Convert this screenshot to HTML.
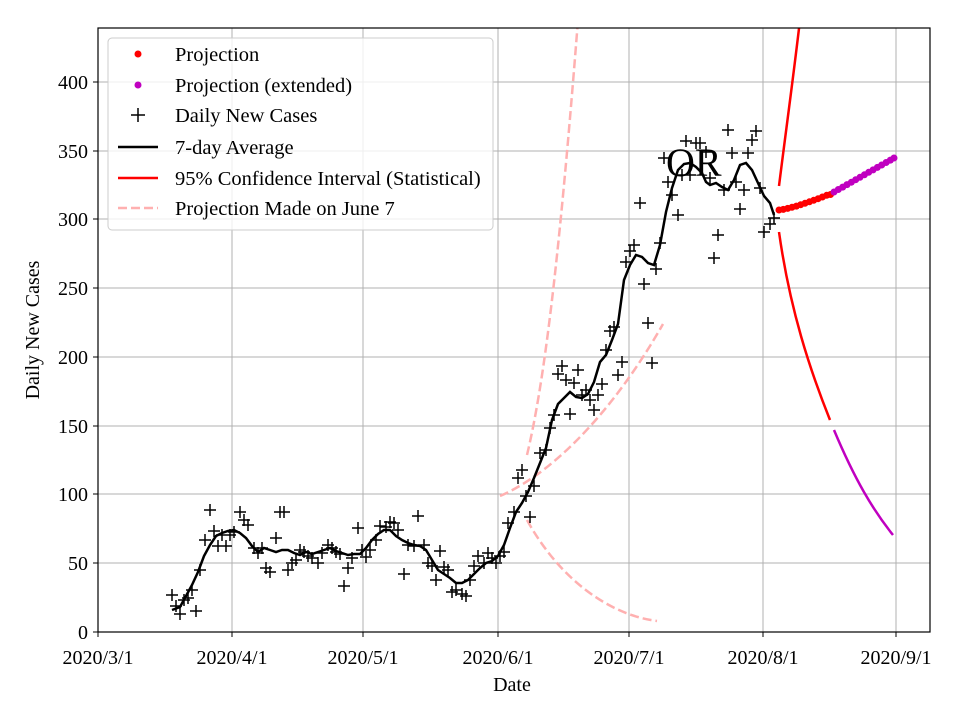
<!DOCTYPE html>
<html><head><meta charset="utf-8"><style>body{margin:0;background:#fff}svg{display:block}text{font-family:"Liberation Serif",serif;fill:#000}</style></head>
<body>
<svg width="960" height="720" viewBox="0 0 960 720" xmlns="http://www.w3.org/2000/svg">
<rect width="960" height="720" fill="#fff"/>
<g stroke="#b0b0b0" stroke-width="1">
<line x1="232" y1="28" x2="232" y2="632"/><line x1="363" y1="28" x2="363" y2="632"/><line x1="498" y1="28" x2="498" y2="632"/><line x1="629" y1="28" x2="629" y2="632"/><line x1="763" y1="28" x2="763" y2="632"/><line x1="896" y1="28" x2="896" y2="632"/>
<line x1="98" y1="563" x2="930" y2="563"/><line x1="98" y1="494" x2="930" y2="494"/><line x1="98" y1="426" x2="930" y2="426"/><line x1="98" y1="357" x2="930" y2="357"/><line x1="98" y1="288" x2="930" y2="288"/><line x1="98" y1="219" x2="930" y2="219"/><line x1="98" y1="151" x2="930" y2="151"/><line x1="98" y1="82" x2="930" y2="82"/>
</g>
<defs><clipPath id="c"><rect x="98" y="28" width="832" height="604"/></clipPath></defs>
<g clip-path="url(#c)" fill="none">
<g stroke="#ffb0b0" stroke-width="2.5" stroke-dasharray="9,4">
<path d="M527,455 C545,380 560,250 578,20"/>
<path d="M500,496 C560,470 620,400 663,324"/>
<path d="M527,520 C560,580 610,615 657,621"/>
</g>
<path d="M779,186 C786,130 793,80 800,20" stroke="#f00" stroke-width="2.5"/>
<path d="M779,232 C790,310 810,370 830,420" stroke="#f00" stroke-width="2.5"/>
<path d="M834,430 C855,480 873,510 893,535" stroke="#c000c0" stroke-width="2.5"/>
<polyline stroke="#000" stroke-width="2.5" points="172,610 180,607 186,596 192,585 198,572 204,556 210,545 216,536 222,533 228,531 234,530 240,533 246,538 252,546 258,552 264,548 270,550 276,552 282,550 288,550 294,553 300,555 306,552 312,554 318,552 324,550 330,548 336,551 342,553 348,555 354,554 360,554 366,548 372,540 378,534 384,530 390,530 396,536 402,540 408,543 414,545 420,546 426,550 432,560 438,570 444,574 450,578 456,583 462,583 468,580 474,574 480,568 486,563 492,561 498,556 504,545 510,528 516,512 522,503 528,492 534,478 540,463 546,448 552,420 558,404 564,398 570,392 576,397 582,398 588,394 594,382 600,362 606,355 612,340 618,324 624,280 630,265 636,255 642,257 648,263 654,265 660,245 666,212 672,188 678,170 684,164 690,163 696,167 702,173 706,182 710,185 716,183 722,187 728,190 734,180 740,165 746,163 752,170 758,183 764,196 770,203 774,215"/>
</g>
<path stroke="#000" stroke-width="1.5" fill="none" d="M166,595h12M172,589v12 M170,606h12M176,600v12 M174,614h12M180,608v12 M178,600h12M184,594v12 M182,598h12M188,592v12 M186,590h12M192,584v12 M190,611h12M196,605v12 M194,570h12M200,564v12 M199,540h12M205,534v12 M204,510h12M210,504v12 M208,531h12M214,525v12 M212,546h12M218,540v12 M216,535h12M222,529v12 M220,546h12M226,540v12 M224,535h12M230,529v12 M228,532h12M234,526v12 M234,512h12M240,506v12 M238,520h12M244,514v12 M242,525h12M248,519v12 M248,548h12M254,542v12 M252,553h12M258,547v12 M256,548h12M262,542v12 M260,568h12M266,562v12 M264,572h12M270,566v12 M270,538h12M276,532v12 M274,512h12M280,506v12 M278,512h12M284,506v12 M282,570h12M288,564v12 M286,563h12M292,557v12 M290,560h12M296,554v12 M294,550h12M300,544v12 M298,552h12M304,546v12 M302,556h12M308,550v12 M306,558h12M312,552v12 M312,563h12M318,557v12 M316,553h12M322,547v12 M322,545h12M328,539v12 M326,548h12M332,542v12 M330,552h12M336,546v12 M334,554h12M340,548v12 M338,586h12M344,580v12 M342,568h12M348,562v12 M346,558h12M352,552v12 M352,528h12M358,522v12 M356,550h12M362,544v12 M360,557h12M366,551v12 M364,550h12M370,544v12 M370,540h12M376,534v12 M374,526h12M380,520v12 M380,527h12M386,521v12 M384,522h12M390,516v12 M388,523h12M394,517v12 M392,530h12M398,524v12 M398,574h12M404,568v12 M402,545h12M408,539v12 M408,546h12M414,540v12 M412,516h12M418,510v12 M418,545h12M424,539v12 M422,563h12M428,557v12 M426,566h12M432,560v12 M430,580h12M436,574v12 M434,551h12M440,545v12 M438,567h12M444,561v12 M442,570h12M448,564v12 M446,592h12M452,586v12 M450,590h12M456,584v12 M456,594h12M462,588v12 M460,596h12M466,590v12 M464,580h12M470,574v12 M468,566h12M474,560v12 M472,556h12M478,550v12 M478,563h12M484,557v12 M482,553h12M488,547v12 M486,558h12M492,552v12 M490,563h12M496,557v12 M494,556h12M500,550v12 M498,552h12M504,546v12 M502,523h12M508,517v12 M508,512h12M514,506v12 M512,478h12M518,472v12 M516,470h12M522,464v12 M520,496h12M526,490v12 M524,517h12M530,511v12 M528,486h12M534,480v12 M534,453h12M540,447v12 M540,450h12M546,444v12 M544,428h12M550,422v12 M548,415h12M554,409v12 M552,374h12M558,368v12 M556,366h12M562,360v12 M560,380h12M566,374v12 M564,414h12M570,408v12 M568,383h12M574,377v12 M572,370h12M578,364v12 M576,395h12M582,389v12 M580,390h12M586,384v12 M584,400h12M590,394v12 M588,410h12M594,404v12 M592,395h12M598,389v12 M596,384h12M602,378v12 M600,350h12M606,344v12 M604,331h12M610,325v12 M608,327h12M614,321v12 M612,375h12M618,369v12 M616,362h12M622,356v12 M620,262h12M626,256v12 M624,251h12M630,245v12 M628,245h12M634,239v12 M634,203h12M640,197v12 M638,284h12M644,278v12 M642,323h12M648,317v12 M646,363h12M652,357v12 M650,269h12M656,263v12 M654,243h12M660,237v12 M658,158h12M664,152v12 M662,182h12M668,176v12 M666,195h12M672,189v12 M672,215h12M678,209v12 M676,175h12M682,169v12 M680,141h12M686,135v12 M684,175h12M690,169v12 M690,143h12M696,137v12 M694,143h12M700,137v12 M700,152h12M706,146v12 M704,178h12M710,172v12 M708,258h12M714,252v12 M712,235h12M718,229v12 M718,190h12M724,184v12 M722,130h12M728,124v12 M726,153h12M732,147v12 M730,182h12M736,176v12 M734,209h12M740,203v12 M738,190h12M744,184v12 M742,153h12M748,147v12 M746,140h12M752,134v12 M750,131h12M756,125v12 M754,188h12M760,182v12 M758,232h12M764,226v12 M764,224h12M770,218v12 M768,218h12M774,212v12"/>
<g fill="#f00">
<circle cx="779" cy="210" r="3.5"/><circle cx="783.3" cy="209.4" r="3.5"/><circle cx="787.7" cy="208.4" r="3.5"/><circle cx="792" cy="207.3" r="3.5"/><circle cx="796.4" cy="206.1" r="3.5"/><circle cx="800.7" cy="204.7" r="3.5"/><circle cx="805" cy="203.3" r="3.5"/><circle cx="809.4" cy="201.8" r="3.5"/><circle cx="813.7" cy="200.3" r="3.5"/><circle cx="818.1" cy="198.7" r="3.5"/><circle cx="822.4" cy="197" r="3.5"/><circle cx="826.7" cy="195.3" r="3.5"/><circle cx="830.5" cy="194.5" r="3.5"/>
</g>
<g fill="#c000c0">
<circle cx="834" cy="192" r="3.5"/><circle cx="838.3" cy="189.5" r="3.5"/><circle cx="842.7" cy="187.1" r="3.5"/><circle cx="847" cy="184.6" r="3.5"/><circle cx="851.4" cy="182.2" r="3.5"/><circle cx="855.7" cy="179.7" r="3.5"/><circle cx="860" cy="177.3" r="3.5"/><circle cx="864.4" cy="174.8" r="3.5"/><circle cx="868.7" cy="172.3" r="3.5"/><circle cx="873.1" cy="169.9" r="3.5"/><circle cx="877.4" cy="167.4" r="3.5"/><circle cx="881.7" cy="165" r="3.5"/><circle cx="886.1" cy="162.5" r="3.5"/><circle cx="890.4" cy="160.1" r="3.5"/><circle cx="894" cy="158" r="3.5"/>
</g>
<rect x="98" y="28" width="832" height="604" fill="none" stroke="#000" stroke-width="1.2"/>
<g stroke="#000"><line x1="98" y1="632" x2="98" y2="637"/><line x1="232" y1="632" x2="232" y2="637"/><line x1="363" y1="632" x2="363" y2="637"/><line x1="498" y1="632" x2="498" y2="637"/><line x1="629" y1="632" x2="629" y2="637"/><line x1="763" y1="632" x2="763" y2="637"/><line x1="896" y1="632" x2="896" y2="637"/>
<line x1="93" y1="632" x2="98" y2="632"/><line x1="93" y1="563" x2="98" y2="563"/><line x1="93" y1="494" x2="98" y2="494"/><line x1="93" y1="426" x2="98" y2="426"/><line x1="93" y1="357" x2="98" y2="357"/><line x1="93" y1="288" x2="98" y2="288"/><line x1="93" y1="219" x2="98" y2="219"/><line x1="93" y1="151" x2="98" y2="151"/><line x1="93" y1="82" x2="98" y2="82"/></g>
<g font-size="20" text-anchor="middle"><text x="98" y="664">2020/3/1</text><text x="232" y="664">2020/4/1</text><text x="363" y="664">2020/5/1</text><text x="498" y="664">2020/6/1</text><text x="629" y="664">2020/7/1</text><text x="763" y="664">2020/8/1</text><text x="896" y="664">2020/9/1</text>
<text x="512" y="691">Date</text></g>
<g font-size="20" text-anchor="end"><text x="88" y="639">0</text><text x="88" y="570">50</text><text x="88" y="501">100</text><text x="88" y="433">150</text><text x="88" y="364">200</text><text x="88" y="295">250</text><text x="88" y="226">300</text><text x="88" y="158">350</text><text x="88" y="89">400</text></g>
<text font-size="20" text-anchor="middle" transform="translate(39,330) rotate(-90)">Daily New Cases</text>
<text x="666" y="176" font-size="40">OR</text>
<rect x="108" y="38" width="385" height="192" rx="4" fill="#fff" fill-opacity="0.8" stroke="#ccc"/>
<g font-size="20.5">
<circle cx="138" cy="54" r="3.5" fill="#f00"/><text x="175" y="61">Projection</text>
<circle cx="138" cy="85" r="3.5" fill="#c000c0"/><text x="175" y="92">Projection (extended)</text>
<path d="M131,115h14M138,108v14" stroke="#000" stroke-width="1.5"/><text x="175" y="122">Daily New Cases</text>
<line x1="118" y1="147" x2="158" y2="147" stroke="#000" stroke-width="2.5"/><text x="175" y="154">7-day Average</text>
<line x1="118" y1="178" x2="158" y2="178" stroke="#f00" stroke-width="2.5"/><text x="175" y="185">95% Confidence Interval (Statistical)</text>
<line x1="118" y1="208" x2="158" y2="208" stroke="#ffb0b0" stroke-width="2.5" stroke-dasharray="9,4"/><text x="175" y="215">Projection Made on June 7</text>
</g>
</svg>
</body></html>
